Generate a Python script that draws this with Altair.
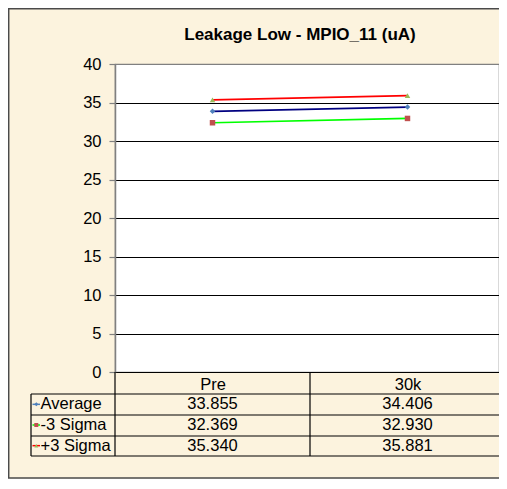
import altair as alt
import pandas as pd

# ---------------- data ----------------
categories = ["Pre", "30k"]
series = ["Average", "-3 Sigma", "+3 Sigma"]
average = [33.855, 34.406]
minus3 = [32.369, 32.930]
plus3 = [35.340, 35.881]
y_ticks = [0, 5, 10, 15, 20, 25, 30, 35, 40]
chart_title = "Leakage Low - MPIO_11 (uA)"

# ---------------- styles ----------------
line_colors = ["#000080", "#00FF00", "#FF0000"]
marker_colors = ["#4F81BD", "#C0504D", "#9BBB59"]
marker_shapes = ["diamond", "square", "triangle-up"]
FONT = "Liberation Sans"
BEIGE = "#FCF3DE"

# ---------------- layout (plot coordinates) ----------------
W, H = 384, 308            # visible plot area (clipped by the window on the right)
XR = 390                   # full width of the category axis / table
PAD = {"left": 107, "top": 56, "right": 0, "bottom": 109}
ROW_TOP, ROW_BOTTOM = 330, 392          # data rows of the table
ROW_LINES = [330, 351, 372, 392]
TABLE_LEFT = -84
FRAME_LEFT = -106.3
FRAME_BOTTOM = 414

values = [average, minus3, plus3]
recs = []
for s, vals in zip(series, values):
    for c, v in zip(categories, vals):
        recs.append({"series": s, "cat": c, "value": v, "label": f"{v:.3f}"})
df = pd.DataFrame(recs)

xscale = alt.Scale(type="point", domain=categories, padding=0.5, range=[0, XR])
X = alt.X(
    "cat:N", sort=categories, scale=xscale,
    axis=alt.Axis(
        title=None, orient="bottom", labelAngle=0, ticks=False, tickSize=0,
        domainColor="black", domainWidth=1.2, labelFontSize=16.5, labelFont=FONT,
        labelColor="black", labelPadding=4, grid=False,
    ),
)
X_noaxis = alt.X("cat:N", sort=categories, scale=xscale, axis=None)
Y = alt.Y(
    "value:Q",
    scale=alt.Scale(domain=[0, 40], nice=False, zero=True),
    axis=alt.Axis(
        title=None, values=y_ticks, grid=True,
        gridColor={"condition": {"test": "datum.value === 40", "value": "#808080"},
                   "value": "black"},
        gridWidth=1, domainColor="#808080", domainWidth=1.5,
        tickColor="#808080", tickSize=6, tickWidth=1.2,
        labelFontSize=16.5, labelFont=FONT, labelColor="black", labelPadding=8,
    ),
)
R = alt.Y("series:N",
          scale=alt.Scale(type="point", domain=series, range=[ROW_TOP, ROW_BOTTOM], padding=0.5),
          axis=None)

# ---------------- decorations (frame + table grid) ----------------
def seg_layer(segs, color, width):
    d = pd.DataFrame(segs, columns=["x", "y", "x2", "y2"])
    return alt.Chart(d).mark_rule(color=color, strokeWidth=width).encode(
        x=alt.X("x:Q", scale=None), y=alt.Y("y:Q", scale=None),
        x2="x2:Q", y2="y2:Q")

gap = alt.Chart(pd.DataFrame({"x": [-PAD["left"]], "x2": [XR],
                              "y": [FRAME_BOTTOM + 0.5], "y2": [H + PAD["bottom"]]})).mark_rect(
    color="white").encode(x=alt.X("x:Q", scale=None), x2="x2:Q",
                          y=alt.Y("y:Q", scale=None), y2="y2:Q")
frame_dark = seg_layer([
    [FRAME_LEFT, -PAD["top"], FRAME_LEFT, FRAME_BOTTOM],
    [-PAD["left"], -55.3, XR, -55.3],
    [-PAD["left"], FRAME_BOTTOM, XR, FRAME_BOTTOM],
], "#4a4a4a", 1.5)

table_lines = seg_layer(
    [[TABLE_LEFT, y, XR, y] for y in ROW_LINES]
    + [[TABLE_LEFT, ROW_LINES[0], TABLE_LEFT, ROW_LINES[-1]],
       [0, H, 0, ROW_LINES[-1]],
       [XR / 2, H, XR / 2, ROW_LINES[-1]]],
    "black", 1.2)

title_layer = alt.Chart(pd.DataFrame({"t": [chart_title]})).mark_text(
    font=FONT, fontSize=17, fontWeight="bold", color="black", align="center",
    baseline="alphabetic").encode(x=alt.value(185), y=alt.value(-24), text="t:N")

# ---------------- plot lines ----------------
plot_layers = []
for i, s in enumerate(series):
    d = df[df["series"] == s]
    plot_layers.append(alt.Chart(d).mark_line(color=line_colors[i], strokeWidth=1.7).encode(x=X, y=Y))
for i, s in enumerate(series):
    d = df[df["series"] == s]
    plot_layers.append(alt.Chart(d).mark_point(shape=marker_shapes[i], filled=True, opacity=1,
                                               color=marker_colors[i], size=30).encode(x=X, y=Y))
plot_group = alt.layer(*plot_layers)

# ---------------- table ----------------
table_layers = [
    alt.Chart(df).mark_text(fontSize=16.5, font=FONT, color="black", baseline="middle",
                            align="center").encode(x=X_noaxis, y=R, text="label:N"),
    alt.Chart(pd.DataFrame({"series": series})).mark_text(
        fontSize=16.5, font=FONT, color="black", baseline="middle", align="left").encode(
        x=alt.value(TABLE_LEFT + 9.5), y=R, text="series:N"),
]
for i, s in enumerate(series):
    one = pd.DataFrame({"series": [s]})
    table_layers.append(alt.Chart(one).mark_rule(color=line_colors[i] if i else marker_colors[i],
                                                 strokeWidth=1.5).encode(
        x=alt.value(TABLE_LEFT + 1.5), x2=alt.value(TABLE_LEFT + 9), y=R))
    table_layers.append(alt.Chart(one).mark_point(shape=marker_shapes[i], filled=True, opacity=1,
                                                  color=marker_colors[i], size=16).encode(
        x=alt.value(TABLE_LEFT + 5.3), y=R))
table_group = alt.layer(*table_layers)

chart = alt.layer(
    gap, frame_dark, title_layer, plot_group, table_lines, table_group
).resolve_scale(y="independent", x="independent").properties(
    width=W, height=H,
    autosize=alt.AutoSizeParams(type="none"),
    padding=PAD,
).configure(background=BEIGE).configure_view(fill="white", stroke="#808080", strokeWidth=1.2)

chart.save("out.html", embed_options={"renderer": "svg", "actions": False})
